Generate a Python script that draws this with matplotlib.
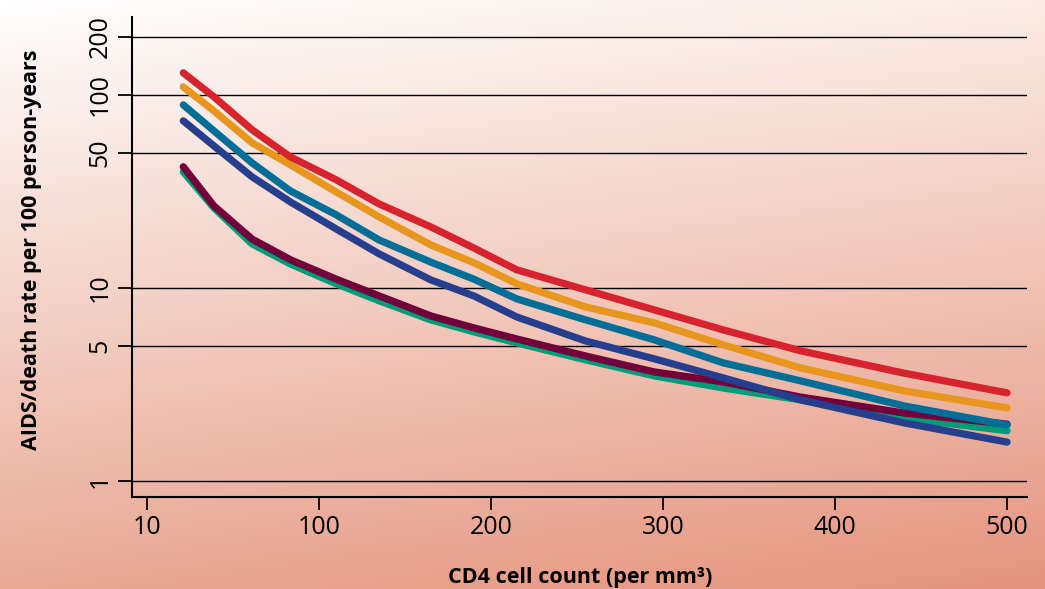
import numpy as np
import matplotlib
matplotlib.use("Agg")
import matplotlib.pyplot as plt

# ---- data ----
cd4 = [29, 45, 65, 85, 110, 135, 165, 190, 215, 255, 295, 335, 380, 440, 500]
rate_red = [130, 97.7, 65.9, 47.7, 36.3, 27.2, 20.7, 16.1, 12.4, 9.77, 7.69, 6.06, 4.72, 3.62, 2.86]
rate_orange = [110, 82.6, 56.4, 43.4, 31.4, 23.3, 16.7, 13.5, 10.5, 7.97, 6.59, 5.07, 3.85, 2.93, 2.39]
rate_teal = [88.7, 65.1, 44.4, 31.8, 23.9, 17.7, 13.6, 11.1, 8.77, 6.83, 5.38, 4.09, 3.30, 2.45, 1.95]
rate_navy = [73.3, 54.4, 37.6, 27.9, 20.2, 15.0, 11.0, 9.09, 7.07, 5.31, 4.29, 3.42, 2.63, 2.00, 1.59]
rate_maroon = [42.4, 26.6, 17.9, 14.0, 11.1, 9.09, 7.16, 6.21, 5.44, 4.44, 3.67, 3.26, 2.72, 2.25, 1.97]
rate_green = [39.9, 26.0, 16.9, 13.3, 10.5, 8.57, 6.83, 5.92, 5.19, 4.24, 3.50, 3.03, 2.63, 2.12, 1.82]

x_ticks = [10, 100, 200, 300, 400, 500]
y_ticks = [1, 5, 10, 50, 100, 200]

series = [
    (rate_green, "#009b78"),
    (rate_maroon, "#72003a"),
    (rate_navy, "#253f8e"),
    (rate_teal, "#006e97"),
    (rate_orange, "#e8961e"),
    (rate_red, "#d6232d"),
]

plt.rcParams['font.family'] = ['Open Sans', 'DejaVu Sans']

fig = plt.figure(figsize=(10.45, 5.89), dpi=100)

# background gradient
bg = fig.add_axes([0, 0, 1, 1], zorder=-10)
H, W = 300, 500
u = np.linspace(0, 1, W)[None, :, None]
v = np.linspace(0, 1, H)[:, None, None]
tl = np.array([255, 255, 255]) / 255
tr = np.array([251, 237, 230]) / 255
bl = np.array([233, 170, 150]) / 255
br = np.array([229, 148, 126]) / 255
img = (1 - v) * ((1 - u) * tl + u * tr) + v * ((1 - u) * bl + u * br)
bg.imshow(img, aspect='auto', extent=[0, 1, 0, 1], origin='upper')
bg.axis('off')

ax = fig.add_axes([132 / 1045, 1 - 497 / 589, (1027 - 132) / 1045, (497 - 17) / 589])
ax.patch.set_alpha(0)


def fwd(x):
    x = np.asarray(x, dtype=float)
    return np.where(x < 100, (x - 10) / 90.0, x / 100.0)


def inv(p):
    p = np.asarray(p, dtype=float)
    return np.where(p < 1, 10 + 90 * p, 100 * p)


ax.set_xscale('function', functions=(fwd, inv))
ax.set_yscale('log')

for vals, col in series:
    ax.plot(cd4, vals, color=col, lw=5.2, solid_capstyle='round', solid_joinstyle='round', zorder=3)

ax.set_ylim(0.826, 253)
ax.set_xlim(inv(-0.087), inv(5.116))

for yt in y_ticks:
    ax.axhline(yt, color='black', lw=1.0, zorder=1)

ax.set_yticks(y_ticks)
ax.set_yticklabels([str(t) for t in y_ticks], rotation=90, va='center')
ax.yaxis.set_minor_locator(matplotlib.ticker.NullLocator())
ax.set_xticks(x_ticks)
ax.set_xticklabels([str(t) for t in x_ticks])
ax.xaxis.set_minor_locator(matplotlib.ticker.NullLocator())

ax.tick_params(axis='y', length=10, width=1.3, labelsize=18, pad=4)
ax.tick_params(axis='x', length=9, width=1.3, labelsize=18, pad=4)

for s in ['top', 'right']:
    ax.spines[s].set_visible(False)
for s in ['left', 'bottom']:
    ax.spines[s].set_linewidth(1.5)

ax.set_ylabel("AIDS/death rate per 100 person-years", fontsize=15.5, fontweight='bold')
ax.yaxis.set_label_coords((42 - 132) / 895, (497 - 250) / 480)
fig.text(580 / 1045, 1 - 577 / 589, "CD4 cell count (per mm³)", fontsize=15.5, fontweight='bold',
         ha='center', va='center')

fig.savefig("out.png", dpi=100)
